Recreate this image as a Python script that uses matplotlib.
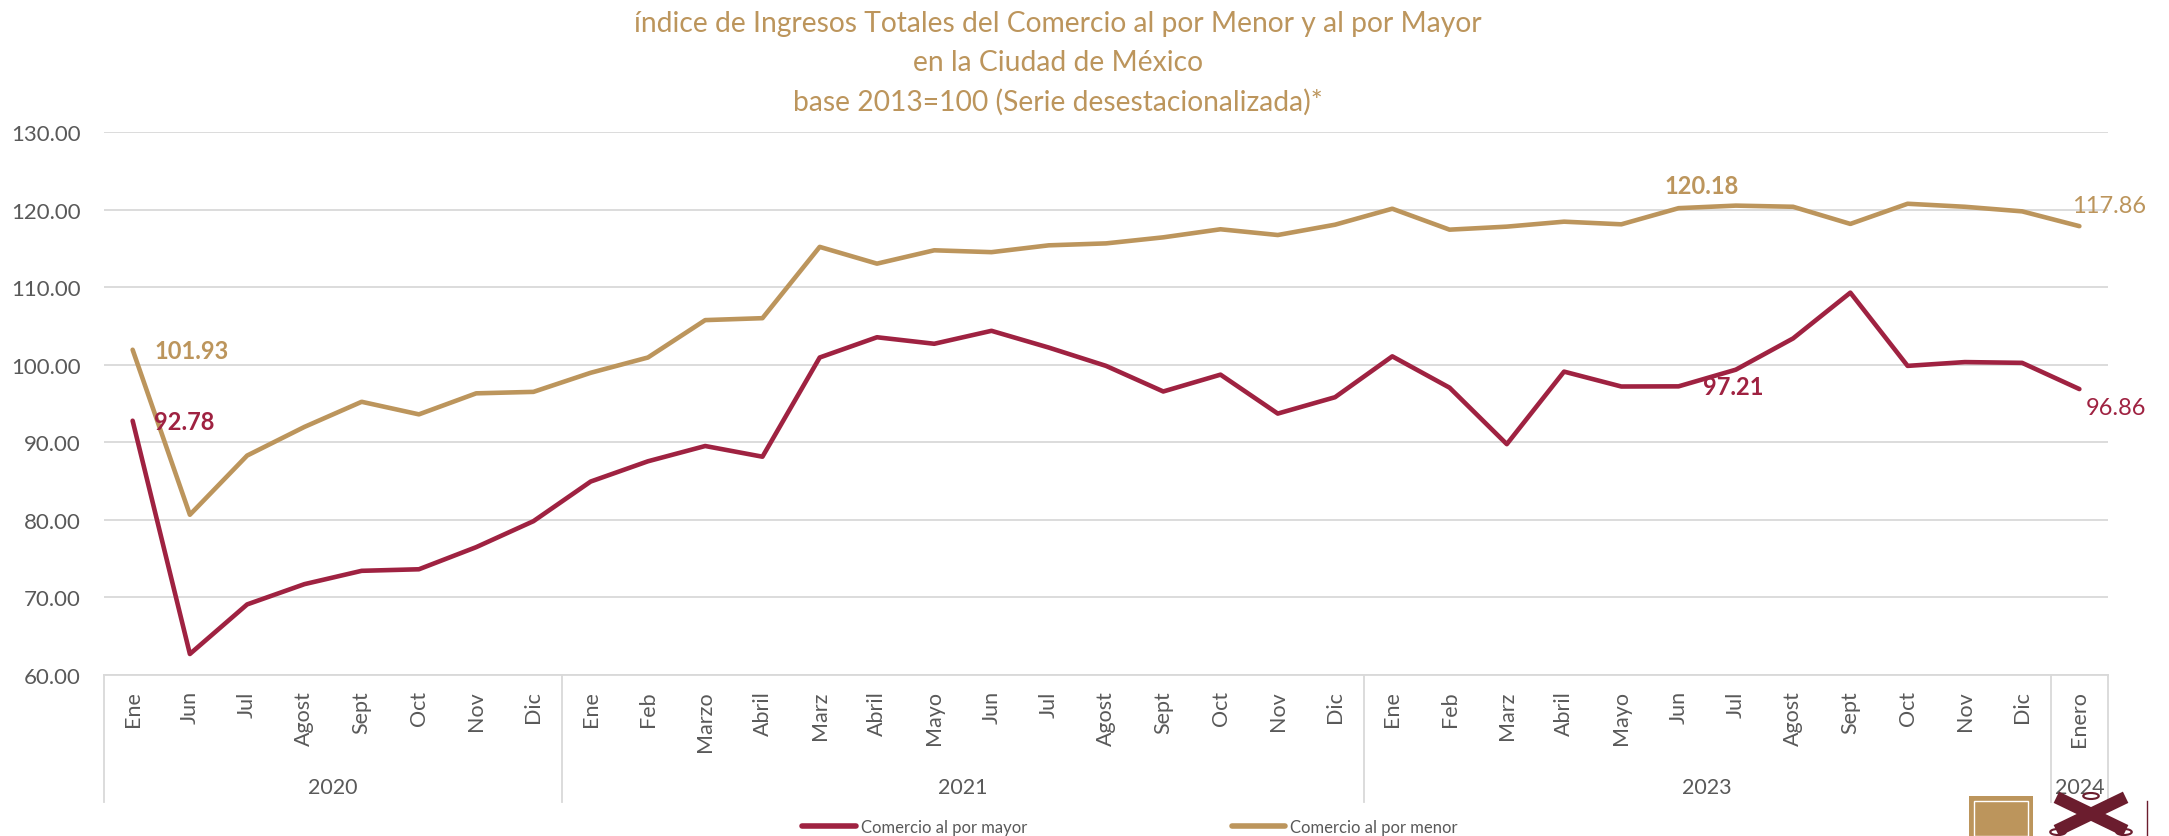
import matplotlib
matplotlib.use("Agg")
import matplotlib.pyplot as plt
import matplotlib.transforms as mtransforms
from matplotlib.patches import Rectangle, Circle
from matplotlib.lines import Line2D

plt.rcParams['font.family'] = ['Lato', 'DejaVu Sans']

# Datos
anios = ['2020', '2021', '2023', '2024']
meses_2020 = ['Ene', 'Jun', 'Jul', 'Agost', 'Sept', 'Oct', 'Nov', 'Dic']
meses_2021 = ['Ene', 'Feb', 'Marzo', 'Abril', 'Marz', 'Abril', 'Mayo', 'Jun',
              'Jul', 'Agost', 'Sept', 'Oct', 'Nov', 'Dic']
meses_2023 = ['Ene', 'Feb', 'Marz', 'Abril', 'Mayo', 'Jun', 'Jul', 'Agost',
              'Sept', 'Oct', 'Nov', 'Dic']
meses_2024 = ['Enero']

por_menor = [101.93, 80.66, 88.29, 91.98, 95.22, 93.60, 96.31, 96.50,
             98.96, 100.93, 105.75, 106.00, 115.19, 113.03, 114.75, 114.51,
             115.39, 115.64, 116.42, 117.46, 116.72, 118.05,
             120.11, 117.41, 117.80, 118.44, 118.10, 120.18, 120.51, 120.36,
             118.15, 120.75, 120.36, 119.77,
             117.86]
por_mayor = [92.78, 62.71, 69.10, 71.71, 73.43, 73.63, 76.48, 79.83,
             84.94, 87.55, 89.52, 88.14, 100.93, 103.54, 102.70, 104.37,
             102.21, 99.85, 96.55, 98.72, 93.70, 95.81,
             101.08, 97.04, 89.76, 99.11, 97.19, 97.21, 99.36, 103.39,
             109.29, 99.85, 100.34, 100.24,
             96.86]

ROJO = '#9F2241'
ORO = '#BC955C'
GRIS = '#595959'
LINEA = '#D9D9D9'

grupos = [meses_2020, meses_2021, meses_2023, meses_2024]
meses = meses_2020 + meses_2021 + meses_2023 + meses_2024
x = list(range(len(meses)))

fig = plt.figure(figsize=(21.69, 8.37), dpi=100)
ax = fig.add_axes([104 / 2169, 1 - 676 / 837, (2108 - 104) / 2169, (676 - 133) / 837])

ax.plot(x, por_mayor, color=ROJO, lw=3.3, solid_joinstyle='round', solid_capstyle='round',
        label='Comercio al por mayor', zorder=3)
ax.plot(x, por_menor, color=ORO, lw=3.3, solid_joinstyle='round', solid_capstyle='round',
        label='Comercio al por menor', zorder=3)

ax.set_xlim(-0.5, len(meses) - 0.5)
ax.set_ylim(60, 130)
ax.set_yticks(range(60, 131, 10))
ax.set_yticklabels(['%.2f' % v for v in range(60, 131, 10)])
ax.yaxis.grid(True, color=LINEA, lw=1.3)
ax.set_axisbelow(True)
for s in ['top', 'right', 'left']:
    ax.spines[s].set_visible(False)
ax.spines['bottom'].set_color(LINEA)
ax.spines['bottom'].set_linewidth(1.3)
ax.tick_params(axis='y', length=0, pad=17, labelsize=16, labelcolor=GRIS)
ax.set_xticks(x)
ax.set_xticklabels(meses, rotation=90)
ax.tick_params(axis='x', length=0, pad=11, labelsize=15.5, labelcolor=GRIS)

# Eje de categorías con años
trans = mtransforms.blended_transform_factory(ax.transData, ax.transAxes)
inicio = -0.5
bordes = [inicio]
for anio, g in zip(anios, grupos):
    fin = inicio + len(g)
    ax.text((inicio + fin) / 2, -0.2063, anio, transform=trans, ha='center', va='center',
            fontsize=15.5, color=GRIS)
    bordes.append(fin)
    inicio = fin
for b in bordes:
    ax.plot([b, b], [0, -0.234], transform=trans, color=LINEA, lw=1.3, clip_on=False)

# Etiquetas de datos
def etiqueta(i, serie, color, dx, dy, peso, ha='left'):
    ax.annotate('%.2f' % serie[i], (i, serie[i]), xytext=(dx, dy), textcoords='offset pixels',
                ha=ha, va='center', color=color, fontsize=17, fontweight=peso)

etiqueta(0, por_menor, ORO, 22, -1, 'bold')
etiqueta(0, por_mayor, ROJO, 21, -1, 'bold')
etiqueta(27, por_menor, ORO, 23, 23, 'bold', ha='center')
etiqueta(27, por_mayor, ROJO, 24, 0, 'bold')
etiqueta(34, por_menor, ORO, -7, 21, 'normal')
etiqueta(34, por_mayor, ROJO, 6, -18, 'normal')

# Título
titulo = ['índice de Ingresos Totales del Comercio al por Menor y al por Mayor',
          'en la Ciudad de México',
          'base 2013=100 (Serie desestacionalizada)*']
for t, yy in zip(titulo, [24, 63, 102]):
    fig.text(1058 / 2169, 1 - yy / 837, t, ha='center', va='center', fontsize=20.3, color=ORO)

# Leyenda
manejadores = [Line2D([], [], color=ROJO, lw=4, solid_capstyle='round'),
               Line2D([], [], color=ORO, lw=4, solid_capstyle='round')]
fig.legend(manejadores, ['Comercio al por mayor', 'Comercio al por menor'],
           loc='center', bbox_to_anchor=(1130 / 2169, 1 - 828 / 837), ncol=2,
           frameon=False, fontsize=12, labelcolor=GRIS, handlelength=3.2,
           handletextpad=0.3, columnspacing=12.3, borderpad=0)

# Logotipo (aproximado)
fig.patches.append(Rectangle((1969 / 2169, 0), 64 / 2169, 40 / 837, transform=fig.transFigure,
                             facecolor=ORO, edgecolor='none'))
fig.patches.append(Rectangle((1974 / 2169, 0), 54 / 2169, 35 / 837, transform=fig.transFigure,
                             facecolor='none', edgecolor='white', lw=1))
VINO = '#6B1D2E'
fig.lines.append(Line2D([2062 / 2169, 2120 / 2169], [8 / 837, 36 / 837], transform=fig.transFigure,
                        color=VINO, lw=9))
fig.lines.append(Line2D([2062 / 2169, 2120 / 2169], [36 / 837, 8 / 837], transform=fig.transFigure,
                        color=VINO, lw=9))
for cx, cy in [(2091, 40), (2058, 4), (2124, 4)]:
    fig.patches.append(Circle((cx / 2169, cy / 837), 3 / 837, transform=fig.transFigure,
                              facecolor='white', edgecolor=VINO, lw=1.5))
fig.lines.append(Line2D([2147 / 2169, 2147 / 2169], [0, 35 / 837], transform=fig.transFigure,
                        color=VINO, lw=1))

fig.savefig('out.png', dpi=100)
